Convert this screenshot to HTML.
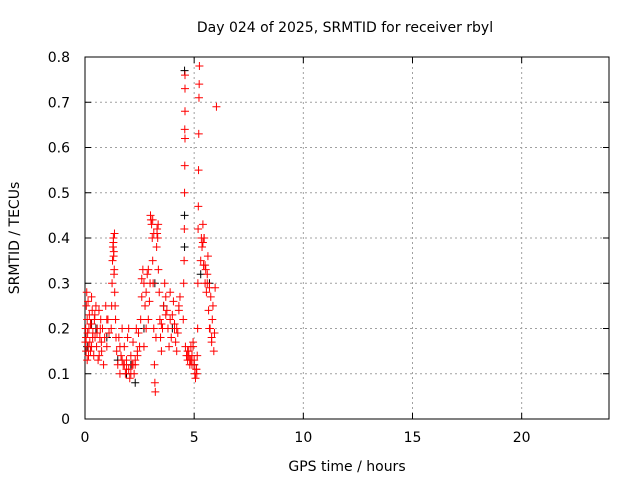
<!DOCTYPE html>
<html><head><meta charset="utf-8"><style>
body{margin:0;background:#fff}
svg text{font-family:"DejaVu Sans",sans-serif;font-size:14px;fill:#000}
</style></head><body>
<svg id="c" width="640" height="480" xmlns="http://www.w3.org/2000/svg"></svg>
<script>
const xTicks=[0,5,10,15,20];
const yTicks=[0,0.1,0.2,0.3,0.4,0.5,0.6,0.7,0.8];
const redX=[
0.02,0.03,0.05,0.06,0.08,0.1,0.12,0.14,0.16,0.18,0.2,0.22,0.25,0.28,0.3,0.33,0.36,0.4,0.43,0.46,0.5,0.53,0.56,0.6,0.64,0.68,0.72,0.76,0.8,0.85,0.9,0.95,1.0,1.05,1.1,
1.2,1.22,1.24,1.26,1.28,1.3,1.32,1.34,1.36,1.38,1.4,1.42,
1.45,1.5,1.55,1.6,1.65,1.7,1.75,1.8,1.85,1.9,1.95,2.0,2.05,2.1,2.15,2.2,2.25,2.3,2.35,2.4,2.45,2.5,
2.55,2.6,2.65,2.7,2.75,2.8,2.85,2.9,2.95,2.98,
3.0,3.02,3.05,3.08,3.1,3.12,3.15,3.18,3.2,3.22,
3.25,3.28,3.3,3.33,3.36,3.4,3.43,3.46,3.5,3.55,3.6,3.65,3.7,3.75,
3.8,3.85,3.9,3.95,4.0,4.05,4.1,4.15,4.2,4.25,4.3,4.35,
4.5,4.52,4.54,4.55,4.56,4.57,4.58,4.58,4.58,4.58,4.57,
4.6,4.65,4.7,4.75,4.8,4.85,4.9,4.95,5.0,5.03,5.06,5.1,5.12,5.14,
5.16,5.17,5.18,5.19,5.2,5.21,5.22,5.23,5.24,
5.3,5.33,5.36,5.4,5.43,5.46,5.5,5.53,5.56,5.6,5.63,5.66,5.7,5.73,5.76,5.8,5.83,5.86,5.9,5.93,5.96,6.02,
0.05,0.15,0.25,0.35,0.45,0.55,0.65,0.75,0.1,0.3,0.7,1.0,
1.3,1.35,1.31,1.33,1.6,1.8,2.0,2.2,2.4,1.7,1.9,2.1,2.3,
2.6,2.8,2.7,2.9,3.1,3.15,3.3,3.35,3.5,3.7,3.9,4.1,4.3,4.2,
4.7,4.8,4.9,5.0,5.1,4.75,4.85,4.95,5.4,5.45,5.6,5.8,5.5,5.7];
const redY=[
0.17,0.2,0.15,0.25,0.28,0.22,0.19,0.26,0.14,0.2,0.23,0.17,0.15,0.21,0.16,0.24,0.19,0.14,0.22,0.18,0.25,0.16,0.2,0.13,0.24,0.18,0.22,0.15,0.2,0.12,0.18,0.25,0.16,0.22,0.19,
0.2,0.25,0.3,0.35,0.38,0.4,0.37,0.33,0.28,0.25,0.22,0.18,
0.15,0.12,0.18,0.1,0.14,0.2,0.12,0.16,0.1,0.13,0.18,0.11,0.09,0.14,0.12,0.17,0.1,0.13,0.2,0.15,0.19,0.16,
0.22,0.27,0.33,0.3,0.25,0.28,0.32,0.22,0.26,0.3,
0.45,0.44,0.43,0.4,0.35,0.3,0.2,0.12,0.08,0.06,
0.18,0.38,0.42,0.4,0.33,0.28,0.22,0.18,0.15,0.2,0.25,0.3,0.27,0.24,
0.2,0.16,0.22,0.18,0.23,0.26,0.2,0.17,0.15,0.19,0.24,0.27,
0.22,0.3,0.35,0.42,0.5,0.56,0.62,0.68,0.73,0.76,0.64,
0.16,0.14,0.13,0.15,0.12,0.16,0.14,0.17,0.13,0.1,0.09,0.11,0.1,0.14,
0.2,0.3,0.42,0.47,0.55,0.63,0.71,0.74,0.78,
0.35,0.4,0.38,0.43,0.34,0.4,0.3,0.33,0.28,0.32,0.36,0.24,0.29,0.2,0.27,0.17,0.22,0.25,0.15,0.19,0.29,0.69,
0.18,0.16,0.21,0.18,0.23,0.19,0.14,0.17,0.13,0.27,0.2,0.22,
0.39,0.41,0.36,0.32,0.16,0.12,0.2,0.12,0.14,0.13,0.11,0.1,0.12,
0.31,0.2,0.16,0.33,0.44,0.41,0.41,0.43,0.21,0.23,0.28,0.21,0.25,0.2,
0.15,0.13,0.12,0.12,0.11,0.14,0.13,0.16,0.39,0.4,0.3,0.18,0.34,0.2];
const blackX=[0.1,0.5,1.0,1.5,1.9,2.3,2.7,3.2,3.6,4.0,4.56,4.56,4.56,5.0,5.3,5.7,0.3,2.1];
const blackY=[0.16,0.2,0.18,0.13,0.1,0.08,0.2,0.3,0.25,0.2,0.38,0.45,0.77,0.12,0.32,0.3,0.21,0.12];
const NS='http://www.w3.org/2000/svg';
const svg=document.getElementById('c');
const L=85,R=609,T=57,B=419;
const xs=h=>L+(R-L)*h/24;
const ys=v=>B-(B-T)*v/0.8;
function mk(t,a){const e=document.createElementNS(NS,t);for(const k in a)e.setAttribute(k,a[k]);svg.appendChild(e);return e;}
xTicks.forEach(t=>{if(t>0){const g=mk('line',{x1:xs(t),x2:xs(t),y1:T,y2:B,stroke:'#a0a0a0','stroke-dasharray':'2,3'});

}
const tx=mk('text',{x:xs(t),y:B+23,'text-anchor':'middle'});tx.textContent=t;


mk('line',{x1:xs(t),x2:xs(t),y1:B,y2:B-6,stroke:'#000'});mk('line',{x1:xs(t),x2:xs(t),y1:T,y2:T+6,stroke:'#000'});});
yTicks.forEach(t=>{if(t>0&&t<0.8){const g=mk('line',{x1:L,x2:R,y1:ys(t),y2:ys(t),stroke:'#a0a0a0','stroke-dasharray':'2,3'});

}
const tx=mk('text',{x:L-15,y:ys(t)+5,'text-anchor':'end'});tx.textContent=t;


mk('line',{x1:L,x2:L+6,y1:ys(t),y2:ys(t),stroke:'#000'});mk('line',{x1:R,x2:R-6,y1:ys(t),y2:ys(t),stroke:'#000'});});
const fr=mk('rect',{x:L,y:T,width:R-L,height:B-T,fill:'none',stroke:'#000'});


function plus(x,y,c,n){const p=mk('path',{d:`M${x-4},${y}h8M${x},${y-4}v8`,stroke:c,'stroke-width':1});

}
blackX.forEach((h,i)=>plus(xs(h),ys(blackY[i]),'#000','black-point'));
redX.forEach((h,i)=>plus(xs(h),ys(redY[i]),'#f00','red-point'));
const tt=mk('text',{x:345,y:32,'text-anchor':'middle'});tt.textContent='Day 024 of 2025, SRMTID for receiver rbyl';


const xt=mk('text',{x:347,y:471,'text-anchor':'middle'});xt.textContent='GPS time / hours';


const yt=mk('text',{x:19,y:238,'text-anchor':'middle',transform:'rotate(-90 19 238)'});yt.textContent='SRMTID / TECUs';


</script>
</body></html>
